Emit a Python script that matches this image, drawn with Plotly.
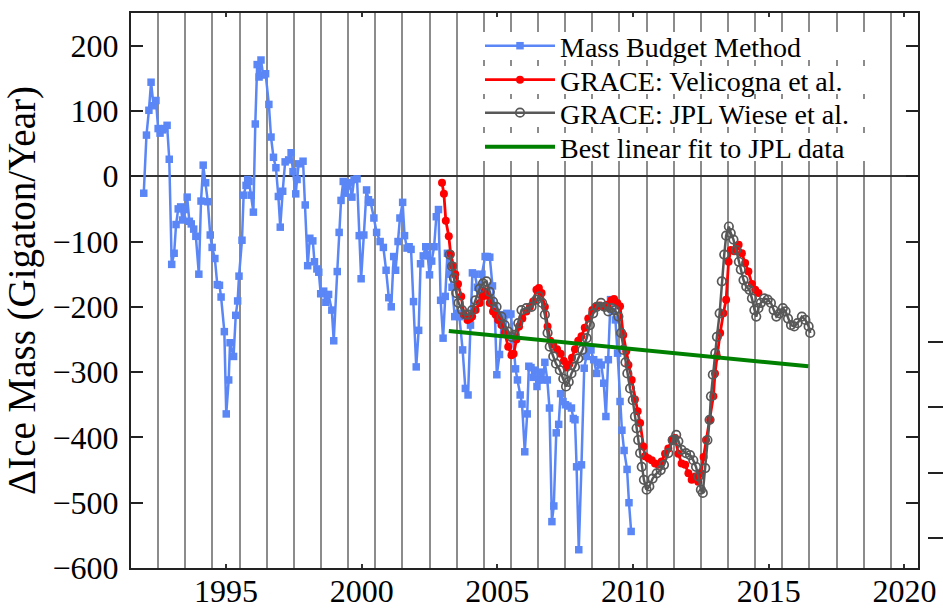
import plotly.graph_objects as go

# Mass budget method (Gt/yr), roughly monthly
mb_years = [
    1991.97, 1992.07, 1992.16, 1992.24, 1992.33, 1992.42, 1992.50, 1992.57, 1992.66, 1992.74,
    1992.83, 1992.91, 1993.00, 1993.09, 1993.16, 1993.24, 1993.33, 1993.40, 1993.49, 1993.57,
    1993.65, 1993.72, 1993.81, 1993.89, 1994.00, 1994.08, 1994.16, 1994.25, 1994.33, 1994.42,
    1994.49, 1994.59, 1994.68, 1994.76, 1994.82, 1994.94, 1995.01, 1995.10, 1995.15, 1995.28,
    1995.36, 1995.43, 1995.48, 1995.59, 1995.65, 1995.74, 1995.80, 1995.85, 1995.93, 1996.01,
    1996.08, 1996.15, 1996.22, 1996.29, 1996.37, 1996.46, 1996.58, 1996.66, 1996.75, 1996.84,
    1996.93, 1997.00, 1997.09, 1997.18, 1997.31, 1997.40, 1997.47, 1997.57, 1997.62, 1997.68,
    1997.84, 1997.92, 1998.01, 1998.09, 1998.20, 1998.26, 1998.35, 1998.42, 1998.49, 1998.60,
    1998.68, 1998.78, 1998.90, 1998.97, 1999.10, 1999.17, 1999.24, 1999.32, 1999.39, 1999.45,
    1999.56, 1999.64, 1999.72, 1999.83, 1999.91, 1999.98, 2000.08, 2000.18, 2000.25, 2000.33,
    2000.45, 2000.55, 2000.68, 2000.80, 2000.90, 2001.00, 2001.09, 2001.18, 2001.25, 2001.34,
    2001.41, 2001.51, 2001.58, 2001.67, 2001.75, 2001.82, 2001.91, 2002.01, 2002.10, 2002.17,
    2002.27, 2002.36, 2002.43, 2002.50, 2002.58, 2002.67, 2002.75, 2002.83, 2002.91, 2003.00,
    2003.08, 2003.16, 2003.25, 2003.33, 2003.43, 2003.52, 2003.60, 2003.72, 2003.82, 2003.92,
    2004.01, 2004.08, 2004.17, 2004.26, 2004.35, 2004.43, 2004.55, 2004.63, 2004.72, 2004.82,
    2004.90, 2004.98, 2005.08, 2005.18, 2005.27, 2005.35, 2005.43, 2005.50, 2005.58, 2005.67,
    2005.74, 2005.84, 2005.91, 2006.01, 2006.10, 2006.16, 2006.24, 2006.32, 2006.38, 2006.46,
    2006.53, 2006.60, 2006.68, 2006.75, 2006.84, 2006.92, 2007.01, 2007.08, 2007.17, 2007.26,
    2007.33, 2007.42, 2007.51, 2007.60, 2007.73, 2007.80, 2007.86, 2007.92, 2008.00, 2008.10,
    2008.20, 2008.28, 2008.36, 2008.45, 2008.55, 2008.66, 2008.74, 2008.83, 2008.92, 2009.00,
    2009.09, 2009.17, 2009.25, 2009.35, 2009.43, 2009.52, 2009.59, 2009.67, 2009.78, 2009.85,
    2009.93,
]
mb_values = [
    -26, 63, 101, 144, 108, 116, 73, 66, 71, 73,
    78, 26, -135, -118, -74, -50, -47, -67, -51, -32,
    -69, -73, -81, -92, -150, -38, 17, -10, -39, -90,
    -109, -126, -166, -167, -185, -238, -364, -312, -255, -276,
    -213, -191, -153, -98, -29, -14, -5, -8, -29, -55,
    80, 171, 152, 178, 155, 157, 110, 60, 29, 13,
    -31, -78, -23, 22, 25, 36, 7, -27, -5, 19,
    23, -44, -137, -95, -99, -131, -142, -147, -180, -176,
    -193, -181, -205, -252, -146, -86, -37, -8, -26, -15,
    -10, -32, -5, -4, -91, -157, -90, -21, -36, -40,
    -64, -86, -100, -109, -144, -186, -200, -123, -144, -100,
    -64, -40, -91, -110, -108, -112, -192, -292, -236, -134,
    -122, -108, -120, -151, -130, -108, -62, -51, -190, -248,
    -184, -118, -150, -170, -215, -210, -215, -266, -325, -335,
    -228, -148, -150, -170, -175, -150, -123, -123, -124, -168,
    -200, -304, -273, -212, -240, -210, -212, -211, -250, -295,
    -312, -335, -349, -422, -364, -291, -293, -308, -297, -322,
    -312, -300, -312, -285, -312, -355, -529, -505, -393, -380,
    -333, -345, -350, -352, -355, -371, -373, -445, -572, -442,
    -294, -276, -266, -266, -281, -302, -285, -289, -317, -368,
    -281, -189, -207, -220, -271, -345, -389, -420, -449, -500,
    -544,
]

# GRACE: Velicogna et al.
vel_years = [
    2002.96, 2003.03, 2003.10, 2003.21, 2003.28, 2003.37, 2003.45, 2003.55, 2003.67, 2003.77,
    2003.90, 2004.00, 2004.07, 2004.20, 2004.35, 2004.45, 2004.54, 2004.63, 2004.72, 2004.84,
    2004.94, 2005.03, 2005.15, 2005.27, 2005.40, 2005.52, 2005.60, 2005.70, 2005.80, 2005.92,
    2006.07, 2006.20, 2006.32, 2006.44, 2006.53, 2006.63, 2006.75, 2006.85, 2006.95, 2007.06,
    2007.20, 2007.33, 2007.45, 2007.55, 2007.65, 2007.75, 2007.86, 2007.98, 2008.10, 2008.22,
    2008.35, 2008.50, 2008.62, 2008.75, 2008.90, 2009.05, 2009.20, 2009.30, 2009.42, 2009.52,
    2009.64, 2009.75, 2009.83, 2009.95, 2010.07, 2010.17, 2010.26, 2010.38, 2010.44, 2010.56,
    2010.69, 2010.81, 2010.93, 2011.05, 2011.18, 2011.30, 2011.43, 2011.55, 2011.67, 2011.79,
    2011.92, 2012.04, 2012.16, 2012.29, 2012.40, 2012.50, 2012.60, 2012.69, 2012.84, 2012.96,
    2013.02, 2013.09, 2013.21, 2013.33, 2013.43, 2013.52, 2013.60, 2013.73, 2013.82, 2013.89,
    2014.01, 2014.13, 2014.25, 2014.38, 2014.50, 2014.62,
]
vel_values = [
    -10, -27, -68, -92, -119, -137, -150, -165, -184, -212,
    -220, -218, -215, -205, -194, -184, -176, -183, -194, -207,
    -212, -220, -228, -240, -261, -274, -272, -250, -230, -218,
    -207, -200, -192, -174, -171, -179, -200, -230, -252, -258,
    -265, -272, -283, -293, -288, -278, -265, -252, -245, -232,
    -218, -205, -200, -198, -200, -197, -190, -188, -194, -199,
    -243, -268, -289, -312, -342, -360, -378, -414, -429, -432,
    -435, -440, -442, -437, -425, -417, -404, -401, -425, -440,
    -442, -455, -465, -460, -468, -455, -430, -404, -373, -337,
    -302, -276, -240, -210, -189, -131, -113, -115, -108, -105,
    -118, -133, -146, -165, -174, -179,
]

# GRACE: JPL Wiese et al.
jpl_years = [
    2003.24, 2003.33, 2003.40, 2003.49, 2003.57, 2003.70, 2003.82, 2003.94, 2004.07, 2004.19,
    2004.35, 2004.47, 2004.60, 2004.72, 2004.84, 2004.97, 2005.15, 2005.27, 2005.40, 2005.52,
    2005.64, 2005.77, 2005.89, 2006.07, 2006.26, 2006.44, 2006.54, 2006.65, 2006.75, 2006.85,
    2006.93, 2007.06, 2007.16, 2007.30, 2007.43, 2007.53, 2007.63, 2007.73, 2007.86, 2007.98,
    2008.13, 2008.29, 2008.41, 2008.53, 2008.66, 2008.82, 2008.96, 2009.09, 2009.21, 2009.33,
    2009.46, 2009.56, 2009.64, 2009.72, 2009.79, 2009.89, 2009.99, 2010.07, 2010.13, 2010.19,
    2010.26, 2010.32, 2010.40, 2010.50, 2010.60, 2010.72, 2010.87, 2011.02, 2011.14, 2011.30,
    2011.46, 2011.59, 2011.67, 2011.79, 2011.95, 2012.10, 2012.22, 2012.32, 2012.41, 2012.50,
    2012.57, 2012.66, 2012.74, 2012.82, 2012.87, 2012.94, 2013.03, 2013.09, 2013.19, 2013.27,
    2013.36, 2013.43, 2013.53, 2013.60, 2013.70, 2013.80, 2013.90, 2013.97, 2014.07, 2014.17,
    2014.29, 2014.38, 2014.47, 2014.54, 2014.62, 2014.71, 2014.83, 2014.96, 2015.08, 2015.18,
    2015.28, 2015.40, 2015.52, 2015.62, 2015.71, 2015.82, 2015.94, 2016.06, 2016.22, 2016.35,
    2016.47, 2016.53,
]
jpl_values = [
    -120, -138, -156, -179, -194, -205, -212, -212, -205, -190,
    -172, -164, -161, -177, -192, -200, -215, -228, -238, -246,
    -243, -225, -205, -202, -200, -189, -184, -194, -212, -240,
    -261, -276, -287, -297, -310, -322, -315, -302, -292, -279,
    -266, -248, -228, -210, -200, -194, -200, -207, -202, -205,
    -215, -240, -266, -285, -302, -325, -343, -368, -386, -404,
    -424, -445, -465, -480, -475, -463, -455, -450, -442, -424,
    -404, -396, -406, -419, -424, -427, -435, -445, -460, -480,
    -485, -447, -404, -373, -337, -304, -271, -246, -210, -161,
    -120, -91, -77, -87, -97, -113, -131, -143, -159, -169,
    -174, -187, -205, -215, -202, -194, -187, -189, -194, -205,
    -215, -210, -202, -207, -218, -228, -230, -225, -215, -220,
    -230, -240,
]

# Best linear fit to the JPL record (end points)
fit_years = [2003.21, 2016.46]
fit_values = [-237, -291]

x_tick_years = [1995, 2000, 2005, 2010, 2015, 2020]
y_tick_values = [-600, -500, -400, -300, -200, -100, 0, 100, 200]
offset_tick_values = [-254, -354, -454, -554]

X_RANGE = [1991.5, 2020.5]
Y_RANGE = [-600, 250]

SERIF = "Liberation Serif"
NBSP = "\u00a0"

W, H = 943, 608
ML, MR, MT, MB = 131, 0, 13, 40
plot_right = 918
paper_w = W - ML - MR
paper_h = H - MT - MB
x_dom_end = (plot_right - ML) / paper_w
y2_pos = (927 - ML) / paper_w


def paper_x(px):
    return (px - ML) / paper_w


def paper_y(py):
    return 1 - (py - MT) / paper_h


def data_x(px):
    return X_RANGE[0] + (px - ML) * (X_RANGE[1] - X_RANGE[0]) / (plot_right - ML)


def data_y(py):
    return Y_RANGE[1] - (py - MT) * (Y_RANGE[1] - Y_RANGE[0]) / paper_h


fig = go.Figure()

fig.add_trace(go.Scatter(
    x=mb_years, y=mb_values, mode="lines+markers",
    name="Mass Budget Method", legend="legend",
    line=dict(color="#5a86f6", width=2.5),
    marker=dict(symbol="square", size=7.5, color="#5a86f6"),
))
fig.add_trace(go.Scatter(
    x=vel_years, y=vel_values, mode="lines+markers",
    name="GRACE: Velicogna et al.", legend="legend2",
    line=dict(color="#ff0000", width=2.8),
    marker=dict(symbol="circle", size=8, color="#ff0000"),
))
fig.add_trace(go.Scatter(
    x=jpl_years, y=jpl_values, mode="lines+markers",
    name="GRACE: JPL Wiese et al.", legend="legend3",
    line=dict(color="#585858", width=2.5),
    marker=dict(symbol="circle-open", size=8.5, color="#585858", line=dict(width=1.7)),
))
fig.add_trace(go.Scatter(
    x=fit_years, y=fit_values, mode="lines",
    name="Best linear fit to JPL data", legend="legend4",
    line=dict(color="#008000", width=4),
))
# carrier for the detached right-hand tick axis
fig.add_trace(go.Scatter(x=[None], y=[None], yaxis="y2", showlegend=False, hoverinfo="skip"))

# one legend per row so the row pitch stays tight; white bands sit behind each row
legend_rows_px = [46, 80, 113, 147]
legend_left_px = 480
band_left_px, band_right_px, band_half = 482, 870, 14

legend_style = dict(
    xanchor="left", yanchor="middle",
    bgcolor="rgba(0,0,0,0)", borderwidth=0,
    font=dict(family=SERIF, size=28, color="black"),
    itemwidth=70,
)

for row_py in legend_rows_px:
    fig.add_shape(
        type="rect", xref="x", yref="y", layer="between",
        x0=data_x(band_left_px), x1=data_x(band_right_px),
        y0=data_y(row_py + band_half), y1=data_y(row_py - band_half),
        fillcolor="white", line=dict(width=0),
    )

fig.update_layout(
    width=W, height=H,
    margin=dict(l=ML, r=MR, t=MT, b=MB, pad=0),
    paper_bgcolor="white", plot_bgcolor="white",
    font=dict(family=SERIF, color="black"),
    showlegend=True,
    legend=dict(x=paper_x(legend_left_px), y=paper_y(legend_rows_px[0]), **legend_style),
    legend2=dict(x=paper_x(legend_left_px), y=paper_y(legend_rows_px[1]), **legend_style),
    legend3=dict(x=paper_x(legend_left_px), y=paper_y(legend_rows_px[2]), **legend_style),
    legend4=dict(x=paper_x(legend_left_px), y=paper_y(legend_rows_px[3]), **legend_style),
    xaxis=dict(
        domain=[0, x_dom_end], automargin=False,
        range=X_RANGE,
        tickmode="array", tickvals=x_tick_years,
        ticktext=[str(v) for v in x_tick_years],
        ticks="inside", ticklen=4, tickwidth=1.5, tickcolor="#333",
        showgrid=False, zeroline=False,
        showline=True, linecolor="#222", linewidth=2, mirror="ticks",
        tickfont=dict(family=SERIF, size=32, color="black"),
        ticklabelstandoff=-6,
        minor=dict(tick0=1992.5, dtick=1, showgrid=True, gridcolor="#8c8c8c",
                   gridwidth=1.5, ticks=""),
    ),
    yaxis=dict(
        range=Y_RANGE, automargin=False,
        tickmode="array", tickvals=y_tick_values,
        ticktext=[("\u2212" + str(-v)) if v < 0 else str(v) for v in y_tick_values],
        ticks="inside", ticklen=12, tickwidth=2, tickcolor="#222",
        showgrid=False,
        zeroline=True, zerolinecolor="#333", zerolinewidth=1.5,
        showline=True, linecolor="#222", linewidth=2, mirror="ticks",
        tickfont=dict(family=SERIF, size=32, color="black"),
        ticklabelstandoff=4,
        title=dict(text="\u0394Ice Mass (Gigaton/Year)",
                   font=dict(family=SERIF, size=39, color="black"), standoff=6),
    ),
    yaxis2=dict(
        overlaying="y", anchor="free", position=y2_pos, side="right",
        range=Y_RANGE, automargin=False,
        tickmode="array", tickvals=offset_tick_values,
        ticks="outside", ticklen=16, tickwidth=2, tickcolor="#222",
        showticklabels=False, showline=False, showgrid=False, zeroline=False,
    ),
)

fig.write_html("out.html")
